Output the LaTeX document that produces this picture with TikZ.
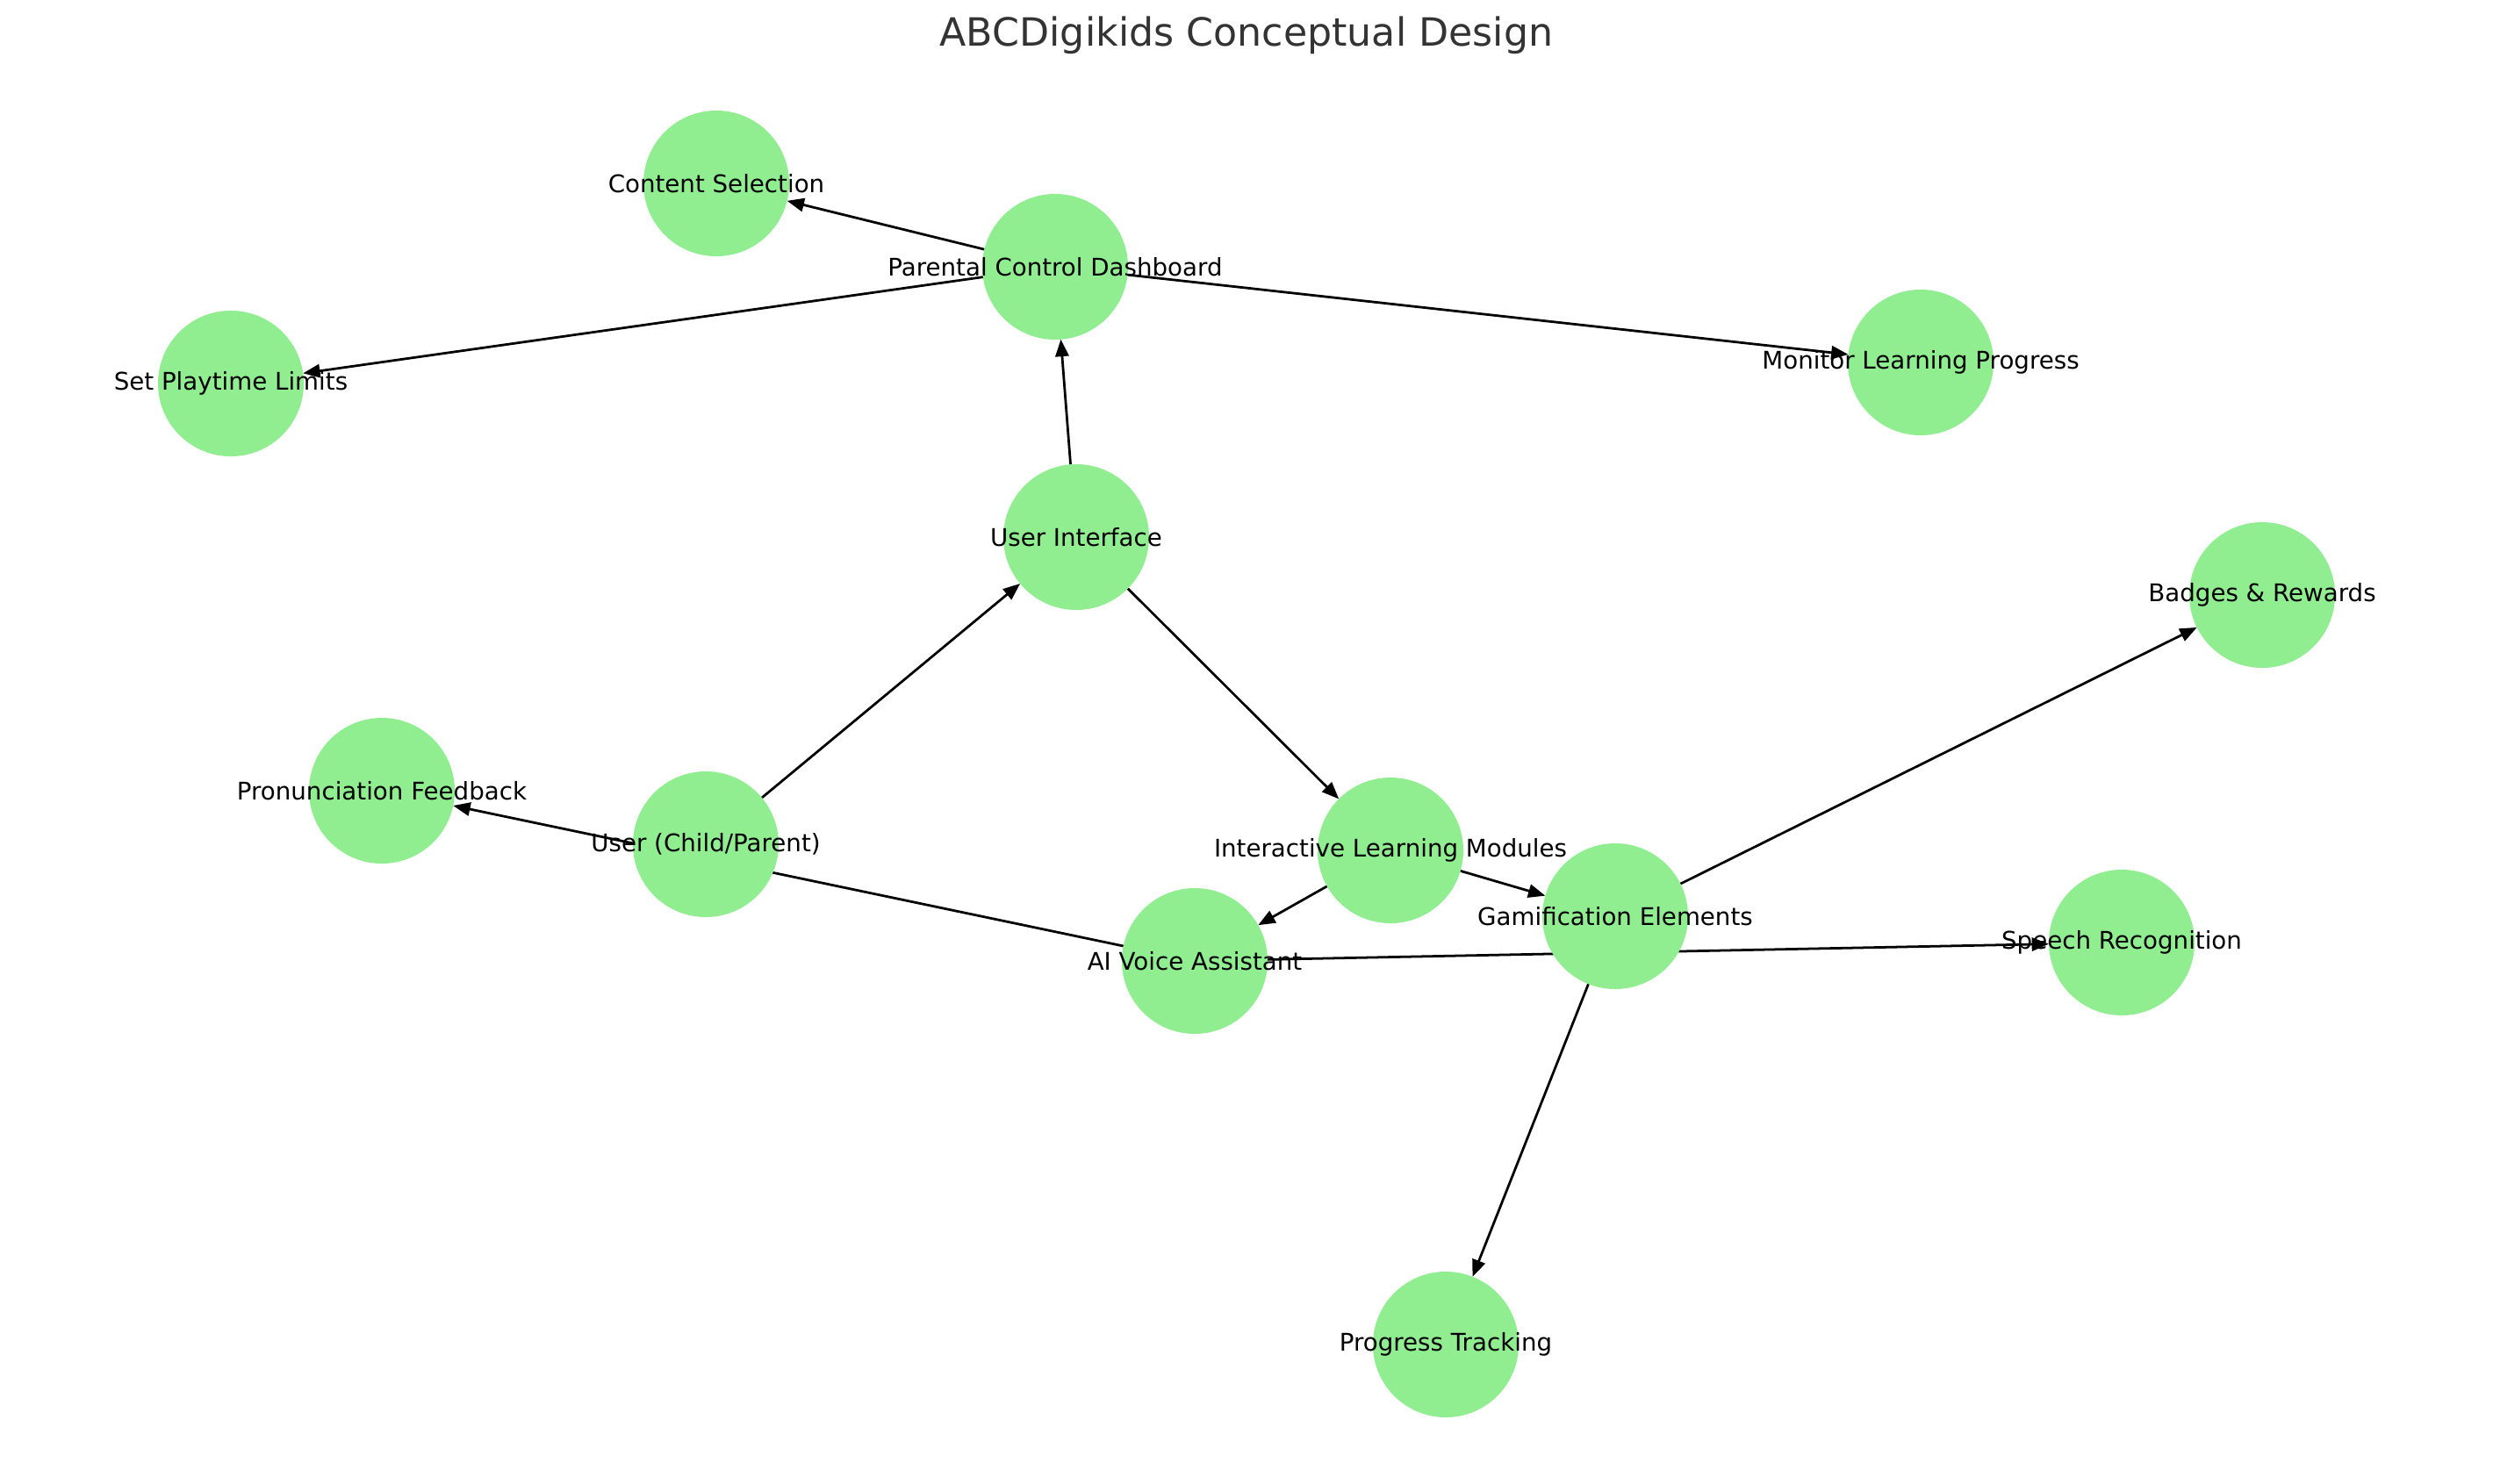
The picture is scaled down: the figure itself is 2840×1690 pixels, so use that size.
\documentclass[tikz,border=0pt]{standalone}
\usepackage{fontspec}
\setmainfont{DejaVu Sans}
\usetikzlibrary{arrows.meta}
\definecolor{abcNodeFill}{HTML}{90EE90}
\definecolor{abcTitle}{HTML}{333333}
\pgfdeclarelayer{background}
\pgfsetlayers{background,main}

\tikzset{
  vertex/.style={circle, fill=abcNodeFill, minimum size=2.108cm,
    inner sep=0pt, outer sep=0pt},
  vlabel/.style={font=\fontsize{10}{12}\selectfont, inner sep=0pt, text=black},
  link/.style={-{Triangle[length=7pt,width=5.5pt]}, line width=1pt, black},
}

\begin{document}
\begin{tikzpicture}[x=0.0127cm, y=-0.0127cm]
\useasboundingbox (0,0) rectangle (2840,1690);

% --- TITLE ---
\node[font=\fontsize{16}{19}\selectfont, text=abcTitle] (title)
  at (1420,40) {ABCDigikids Conceptual Design};

% --- VERTICES (pixel positions) ---
\node[vertex] (cs)  at (816,209)   {};
\node[vertex] (pcd) at (1202,304)  {};
\node[vertex] (spl) at (263,437)   {};
\node[vertex] (mlp) at (2188,413)  {};
\node[vertex] (ui)  at (1226,612)  {};
\node[vertex] (br)  at (2577,678)  {};
\node[vertex] (pf)  at (435,901)   {};
\node[vertex] (us)  at (804,962)   {};
\node[vertex] (ilm) at (1584,969)  {};
\node[vertex] (gam) at (1840,1044) {};
\node[vertex] (aiv) at (1361,1095) {};
\node[vertex] (sr)  at (2417,1074) {};
\node[vertex] (pt)  at (1647,1532) {};

% --- LABELS (centred on vertices, wider than the circles) ---
\foreach \v/\t in {cs/Content Selection, pcd/Parental Control Dashboard,
  spl/Set Playtime Limits, mlp/Monitor Learning Progress,
  ui/User Interface, br/Badges \& Rewards, pf/Pronunciation Feedback,
  us/{User (Child/Parent)}, ilm/Interactive Learning Modules,
  gam/Gamification Elements, aiv/AI Voice Assistant,
  sr/Speech Recognition, pt/Progress Tracking}
  \node[vlabel] (\v-txt) at (\v) {\t};

% --- EDGES (behind the vertices) ---
\begin{pgfonlayer}{background}
\foreach \a/\b in {us/ui, ui/pcd, ui/ilm, pcd/cs, pcd/spl, pcd/mlp,
  ilm/aiv, ilm/gam, aiv/pf, aiv/sr, gam/br, gam/pt}
  \draw[link] (\a) -- (\b);
\end{pgfonlayer}

\end{tikzpicture}
\end{document}
